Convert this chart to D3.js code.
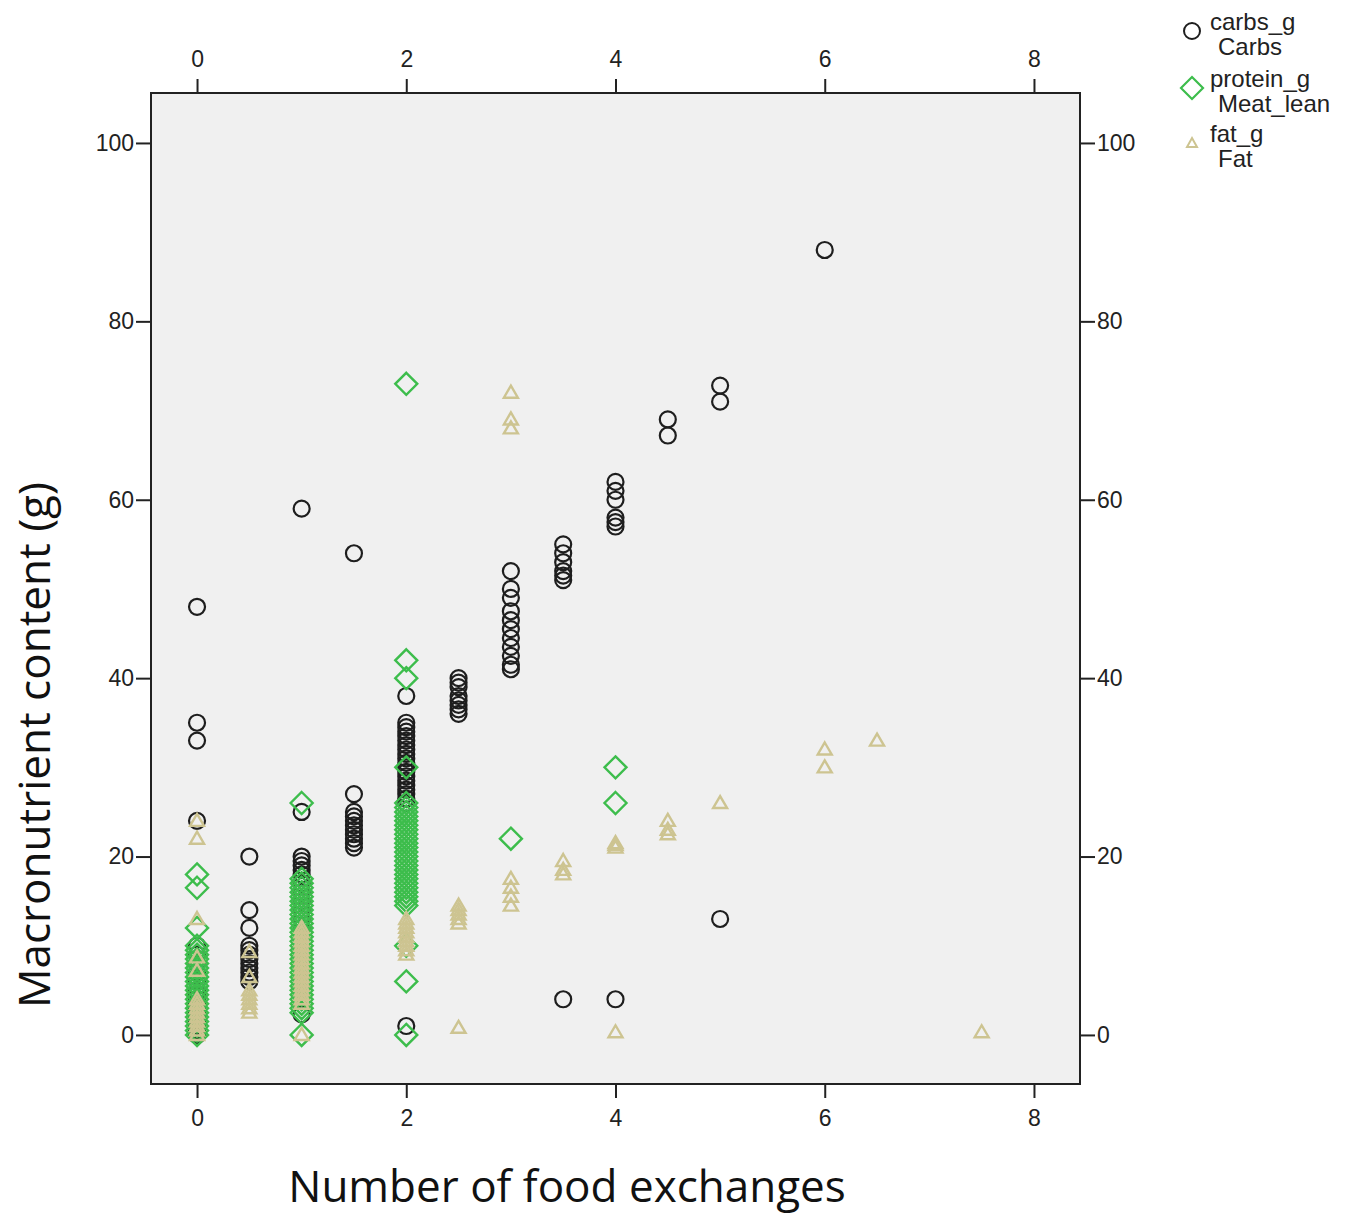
<!DOCTYPE html>
<html><head><meta charset="utf-8">
<script src="https://cdn.jsdelivr.net/npm/d3@7"></script>
<style>body{margin:0;background:#fff}</style>
</head><body><svg id="c" width="1349" height="1216"></svg>
<script>
// ---- data: [number of food exchanges, [grams ...]] ----
const carbs = [
  [0,   [48,35,33,24,10,9,8,7,6,5,4.5,4,3.5,3,2.5,2,1.5,1,0.5,0]],
  [0.5, [20,14,12,10,9.5,9,8.5,8,7.5,7,6.5,6]],
  [1,   [59,25,20,19.5,19,18.5,18,17,16,15,14,13,12,2.3]],
  [1.5, [54,27,25,24.5,24,23.5,23,22.5,22,21.5,21]],
  [2,   [38,35,34.5,34,33.5,33,32.5,32,31.5,31,30.5,30,29.5,29,28.5,28,27.5,27,26.5,26,1]],
  [2.5, [40,39.5,39,38,37.5,37,36.5,36]],
  [3,   [52,50,49,47.5,46.5,45.5,44.5,43.5,42.5,41.5,41]],
  [3.5, [55,54,53,52,51.5,51,4]],
  [4,   [62,61,60,58,57.5,57,4]],
  [4.5, [69,67.2]],
  [5,   [72.8,71,13]],
  [6,   [88]]
];
const protein = [
  [0,   [18,16.5,12,10,9.5,9,8.5,8,7.5,7,6.5,6,5.5,5,4.5,4,3.5,3,2.5,2,1.5,1,0.5,0]],
  [1,   [26,17.5,17,16.5,16,15.5,15,14.5,14,13.5,13,12.5,12,11.5,11,10.5,10,9.5,9,8.5,8,7.5,7,6.5,6,5.5,5,4.5,4,3.5,3,2.5,0]],
  [2,   [73,42,40,30,26,25.5,25,24.5,24,23.5,23,22.5,22,21.5,21,20.5,20,19.5,19,18.5,18,17.5,17,16.5,16,15.5,15,14.5,10,6,0]],
  [3,   [22]],
  [4,   [30,26]]
];
const fat = [
  [0,   [24,22,13,8.7,7.2,4,3.5,3,2.5,2,1.5,1,0.5,0]],
  [0.5, [9.3,6.5,5,4.5,4,3.5,3,2.5]],
  [1,   [12,11.5,11,10.5,10,9.5,9,8.5,8,7.5,7,6.5,6,5.5,5,4.5,4,3.5,0]],
  [2,   [13,12.5,12,11.5,11,10.5,10,9.5,9]],
  [2.5, [14.5,14,13.5,13,12.5,0.8]],
  [3,   [72,69,68,17.5,16.5,15.5,14.5]],
  [3.5, [19.5,18.5,18]],
  [4,   [21.5,21.3,21,0.3]],
  [4.5, [24,23,22.5]],
  [5,   [26]],
  [6,   [32,30]],
  [6.5, [33]],
  [7.5, [0.3]]
];

const xTicks = [0,2,4,6,8];
const yTicks = [0,20,40,60,80,100];
const xTitle = "Number of food exchanges";
const yTitle = "Macronutrient content (g)";
const legendItems = [
  {key:"carbs", l1:"carbs_g", l2:"Carbs"},
  {key:"protein", l1:"protein_g", l2:"Meat_lean"},
  {key:"fat", l1:"fat_g", l2:"Fat"}
];

const flat = s => s.flatMap(([xv, ys]) => ys.map(yv => ({x:xv, y:yv})));

// ---- layout ----
const svg = d3.select("#c");
const L = 151, R = 1080, T = 93, B = 1084;
const x = d3.scaleLinear().domain([-0.44, 8.44]).range([L, R]);
const y = d3.scaleLinear().domain([-5.5, 105.6]).range([B, T]);
const colors = {carbs:"#1e1e1e", protein:"#3dbd4c", fat:"#cdc491"};
const tickFont = "'Liberation Sans', Arial, sans-serif";

svg.append("rect").attr("x",L).attr("y",T).attr("width",R-L).attr("height",B-T)
  .attr("fill","#f0f0f0");

function styleAxis(g){
  g.selectAll(".domain").remove();
  g.selectAll(".tick line").attr("stroke","#222").attr("stroke-width",2);
  g.selectAll(".tick text").attr("fill","#222").style("font-family",tickFont).style("font-size","23px");
}
svg.append("g").attr("transform",`translate(0,${B})`)
  .call(d3.axisBottom(x).tickValues(xTicks).tickSize(14).tickPadding(12).tickFormat(d3.format("d"))).call(styleAxis);
svg.append("g").attr("transform",`translate(0,${T})`)
  .call(d3.axisTop(x).tickValues(xTicks).tickSize(14).tickPadding(12).tickFormat(d3.format("d"))).call(styleAxis);
svg.append("g").attr("transform",`translate(${L},0)`)
  .call(d3.axisLeft(y).tickValues(yTicks).tickSize(15).tickPadding(2).tickFormat(d3.format("d"))).call(styleAxis);
svg.append("g").attr("transform",`translate(${R},0)`)
  .call(d3.axisRight(y).tickValues(yTicks).tickSize(15).tickPadding(2).tickFormat(d3.format("d"))).call(styleAxis);

svg.append("rect").attr("x",L).attr("y",T).attr("width",R-L).attr("height",B-T)
  .attr("fill","none").attr("stroke","#222").attr("stroke-width",2);

// marker shapes
const diamondPath = "M0,-11L11,0L0,11L-11,0Z";
const triPath = "M0,-7L7,5L-7,5Z";

const plot = svg.append("g");
plot.selectAll("circle.c").data(flat(carbs)).join("circle").attr("class","c")
  .attr("cx",d=>x(d.x)).attr("cy",d=>y(d.y)).attr("r",8)
  .attr("fill","none").attr("stroke",colors.carbs).attr("stroke-width",2.2);
plot.selectAll("path.p").data(flat(protein)).join("path").attr("class","p")
  .attr("d",diamondPath).attr("transform",d=>`translate(${x(d.x)},${y(d.y)})`)
  .attr("fill","none").attr("stroke",colors.protein).attr("stroke-width",2.4);
plot.selectAll("path.f").data(flat(fat)).join("path").attr("class","f")
  .attr("d",triPath).attr("transform",d=>`translate(${x(d.x)},${y(d.y)})`)
  .attr("fill","none").attr("stroke",colors.fat).attr("stroke-width",2.4);

// titles
const titleFont = "'Open Sans', sans-serif";
svg.append("text").attr("x",567).attr("y",1202).attr("text-anchor","middle")
  .style("font-family",titleFont).style("font-size","44px").attr("fill","#111").text(xTitle);
svg.append("text").attr("transform","translate(50,745) rotate(-90)").attr("text-anchor","middle")
  .style("font-family",titleFont).style("font-size","44px").attr("fill","#111").text(yTitle);

// legend
const lg = svg.append("g");
const ly = [31, 88, 143];
legendItems.forEach((it,i)=>{
  const g = lg.append("g").attr("transform",`translate(1192,${ly[i]})`);
  if(it.key==="carbs") g.append("circle").attr("r",8).attr("fill","none").attr("stroke",colors.carbs).attr("stroke-width",2);
  if(it.key==="protein") g.append("path").attr("d",diamondPath).attr("fill","none").attr("stroke",colors.protein).attr("stroke-width",2.2);
  if(it.key==="fat") g.append("path").attr("d","M0,-5L5,4L-5,4Z").attr("fill","none").attr("stroke",colors.fat).attr("stroke-width",2);
  g.append("text").attr("x",18).attr("y",-1).style("font-family",tickFont).style("font-size","24px").attr("fill","#222").text(it.l1);
  g.append("text").attr("x",26).attr("y",24).style("font-family",tickFont).style("font-size","24px").attr("fill","#222").text(it.l2);
});
</script></body></html>
